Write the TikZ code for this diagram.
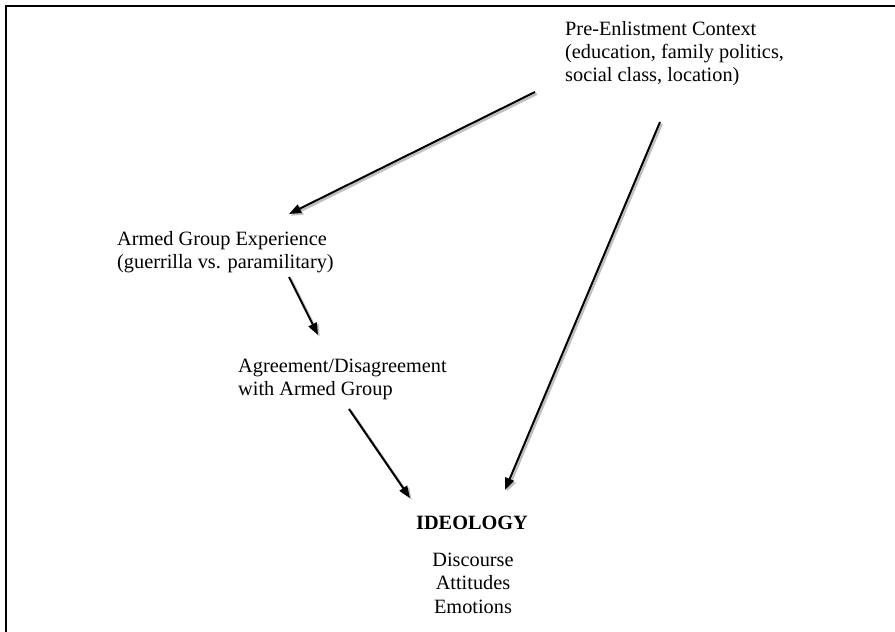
\documentclass[tikz,border=0pt]{standalone}
\usepackage{fontspec}
\setmainfont{Liberation Serif}
\usetikzlibrary{arrows.meta}
\tikzset{
  lbl/.style={inner sep=0pt, font=\fontsize{20.3}{23.3}\selectfont},
  conn/.style={line width=2pt, -{Triangle[length=12pt,width=9pt]}},
  connshadow/.style={line width=2.4pt, draw=black!25, -{Triangle[length=12pt,width=9pt]}},
  frame/.style={line width=2.6pt, line cap=rect}
}
\newcommand{\shadowarrow}[2]{%
  \draw[connshadow, transform canvas={xshift=1.8pt,yshift=-1.8pt}] (#1) -- (#2);
  \draw[conn] (#1) -- (#2);
}
\begin{document}
\begin{tikzpicture}[x=1pt,y=-1pt]
\useasboundingbox (0,0) rectangle (895,632);
% frame (top and left sides only)
\coordinate (fr) at (895,6);
\coordinate (fc) at (6,6);
\coordinate (fb) at (6,632);
\draw[frame] (fr) -- (fc) -- (fb);

% text nodes
\node[lbl, align=left, anchor=north west] (pre) at (565,21)
  {Pre-Enlistment Context\\(education, family politics,\\social class, location)};
\node[lbl, align=left, anchor=north west] (armed) at (117,231)
  {Armed Group Experience\\(guerrilla vs. paramilitary)};
\node[lbl, align=left, anchor=north west] (agree) at (238,359)
  {Agreement/Disagreement\\with Armed Group};
\node[lbl, anchor=base, font=\fontsize{20.3}{23.3}\selectfont\bfseries] (ideo) at (472,529) {IDEOLOGY};
\node[lbl, align=center, anchor=north] (dims) at (473,553)
  {Discourse\\Attitudes\\Emotions};

% connector end points
\coordinate (a1s) at (535,92);
\coordinate (a1e) at (289,214);
\coordinate (a2s) at (289,277);
\coordinate (a2e) at (318,335);
\coordinate (a3s) at (349,409);
\coordinate (a3e) at (410,498);
\coordinate (a4s) at (660,122);
\coordinate (a4e) at (505,490);

\shadowarrow{a1s}{a1e}
\shadowarrow{a2s}{a2e}
\shadowarrow{a3s}{a3e}
\shadowarrow{a4s}{a4e}
\end{tikzpicture}
\end{document}
